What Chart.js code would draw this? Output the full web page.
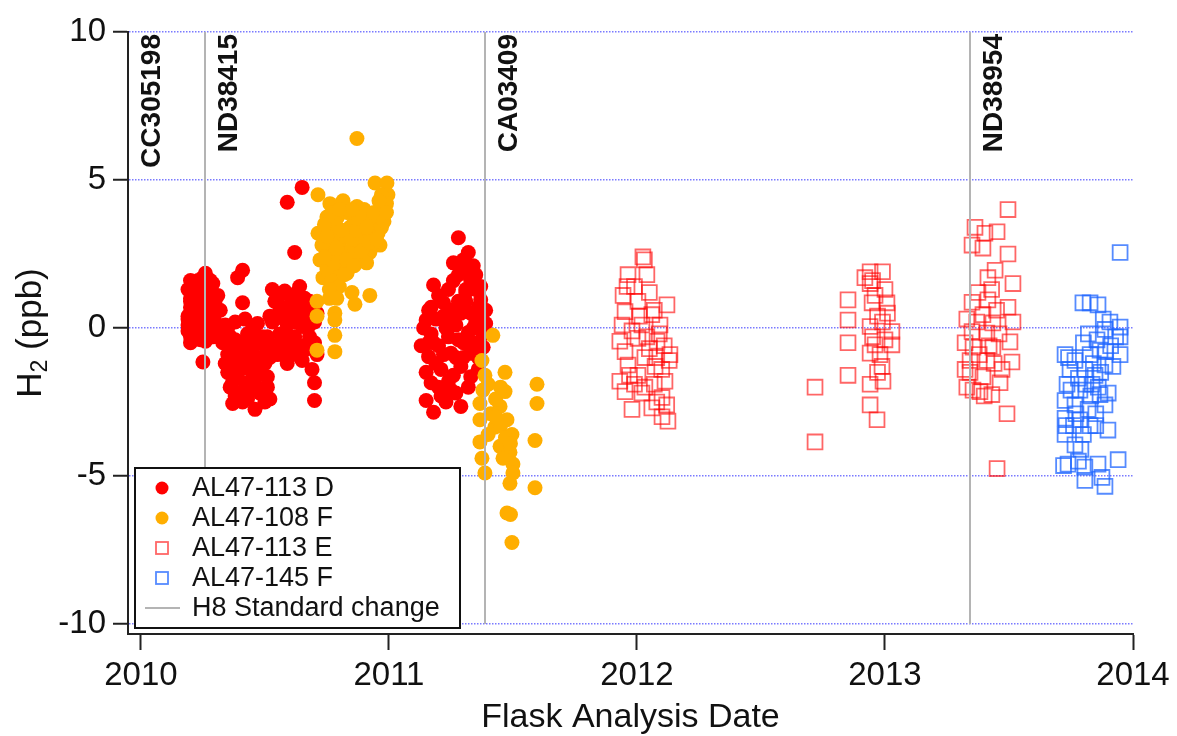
<!DOCTYPE html>
<html>
<head>
<meta charset="utf-8">
<title>H2 flask analysis</title>
<script src="https://cdn.jsdelivr.net/npm/chart.js@4.4.1/dist/chart.umd.min.js"></script>
<style>
  html, body { margin: 0; padding: 0; background: #fff; }
</style>
</head>
<body>
<canvas id="h2Chart" width="1177" height="736"></canvas>
<script>
// AL47-113 D (filled red circles)
const d113Dates = [
  2010.19, 2010.19, 2010.20, 2010.20, 2010.20, 2010.19, 2010.19, 2010.20, 2010.20, 2010.20,
  2010.21, 2010.21, 2010.22, 2010.22, 2010.23, 2010.23, 2010.24, 2010.24, 2010.25, 2010.25,
  2010.25, 2010.26, 2010.26, 2010.27, 2010.27, 2010.28, 2010.28, 2010.29, 2010.29, 2010.30,
  2010.30, 2010.31, 2010.32, 2010.41, 2010.39,
  2010.20, 2010.21, 2010.22, 2010.23, 2010.24, 2010.26, 2010.27, 2010.28, 2010.29, 2010.30,
  2010.31, 2010.32, 2010.19, 2010.26, 2010.30,
  2010.33, 2010.34, 2010.35, 2010.35, 2010.36, 2010.36, 2010.37, 2010.37, 2010.38, 2010.38,
  2010.39, 2010.40, 2010.40, 2010.41, 2010.41, 2010.42, 2010.42, 2010.43, 2010.43, 2010.44,
  2010.45, 2010.45, 2010.46, 2010.46, 2010.47, 2010.47, 2010.48, 2010.48, 2010.49, 2010.50,
  2010.51, 2010.51, 2010.52, 2010.52,
  2010.34, 2010.36, 2010.37, 2010.38, 2010.39, 2010.40, 2010.41, 2010.42, 2010.43, 2010.44,
  2010.44, 2010.45, 2010.46, 2010.47, 2010.48, 2010.49, 2010.50, 2010.50, 2010.51, 2010.52,
  2010.38, 2010.35,
  2010.53, 2010.53, 2010.54, 2010.55, 2010.55, 2010.56, 2010.57, 2010.58, 2010.58, 2010.59,
  2010.59, 2010.60, 2010.61, 2010.61, 2010.62, 2010.62, 2010.63, 2010.64, 2010.64, 2010.65,
  2010.65, 2010.66, 2010.67, 2010.67, 2010.68, 2010.69, 2010.69, 2010.70, 2010.70, 2010.70,
  2010.71, 2010.59, 2010.65,
  2010.54, 2010.55, 2010.56, 2010.57, 2010.58, 2010.60, 2010.60, 2010.62, 2010.63, 2010.63,
  2010.65, 2010.66, 2010.66, 2010.68, 2010.68, 2010.70, 2010.71, 2010.56, 2010.59, 2010.62,
  2011.28, 2011.32, 2011.26, 2011.35, 2011.18, 2011.26, 2011.31, 2011.37, 2011.17, 2011.22,
  2011.15, 2011.26, 2011.33, 2011.38, 2011.39, 2011.16, 2011.24, 2011.32, 2011.37, 2011.16,
  2011.25, 2011.33, 2011.21, 2011.29, 2011.33, 2011.17, 2011.25, 2011.15, 2011.21, 2011.18,
  2011.29, 2011.38, 2011.39, 2011.20, 2011.23, 2011.28, 2011.30, 2011.35, 2011.27, 2011.20,
  2011.36, 2011.31, 2011.24, 2011.14, 2011.13, 2011.34, 2011.30, 2011.35,
  2011.15, 2011.17, 2011.19, 2011.19, 2011.20, 2011.22, 2011.22, 2011.24, 2011.25, 2011.26,
  2011.27, 2011.28, 2011.28, 2011.29, 2011.30, 2011.31, 2011.32, 2011.33, 2011.34, 2011.35,
  2011.36, 2011.37, 2011.38, 2011.36, 2011.18, 2011.16, 2011.23, 2011.27, 2011.31
];
const d113Values = [
  0.30, -0.10, 0.90, 0.50, -0.30, 1.30, 0.10, 1.60, 0.70, -0.50,
  1.10, 0.30, 1.45, -0.20, 0.80, 0.45, 1.20, -0.40, 1.70, 0.10,
  -1.15, 1.85, 0.60, 1.35, -0.10, 0.90, 0.25, 1.50, -0.30, 0.50,
  0.95, 0.00, 0.60, 1.95, 1.70,
  1.00, -0.10, 0.60, 1.60, 0.20, 1.10, 0.35, 1.60, 0.70, 0.20,
  1.10, -0.30, 0.40, -0.45, -0.10,
  -0.50, 0.10, -0.90, -1.50, -0.30, -2.00, -0.75, -2.55, -1.20, 0.20,
  -1.70, -0.50, -2.20, 0.85, -1.00, 0.30, -1.85, -0.20, -2.40, -1.40,
  -0.80, 0.00, -2.75, -1.70, 0.15, -1.20, -2.20, -0.50, -1.00, -2.50,
  -1.65, -0.30, -2.40, 0.40,
  -1.20, -1.00, -1.80, -2.30, -0.90, -1.40, -2.50, -0.60, -1.20, -2.00,
  -0.30, -1.50, -0.40, -2.00, -1.50, -0.30, -1.20, -0.60, -2.00, -1.00,
  -0.40, 0.00,
  1.30, 0.20, -0.60, 0.35, 1.00, -0.20, 0.70, -0.50, 1.25, -1.20,
  0.10, 0.60, 0.85, -0.40, 2.55, 0.20, -0.90, 1.40, 0.50, 0.05,
  -0.60, -0.75, 0.90, 0.30, -0.30, 0.60, -1.40, -1.85, -2.45, 0.20,
  -0.90, 4.25, 4.75,
  0.90, -0.90, 0.60, -0.20, 0.30, -0.60, 1.10, -0.30, 0.60, 1.20,
  -1.10, 0.50, 1.00, 0.10, 0.90, -0.50, 0.50, -0.70, -0.80, 0.90,
  3.05, 2.55, 2.20, 1.80, 1.45, 1.60, 1.30, 0.95, 0.70, 0.85,
  0.27, 0.27, 0.50, 0.55, 0.60, -0.50, -0.30, -0.15, -0.05, -0.97,
  -0.85, -0.85, -1.40, -1.30, -1.65, -1.85, -2.10, -2.45, -2.30, -2.85,
  -2.65, -0.65, 0.15, 1.10, 0.00, 0.90, -0.50, 0.20, -1.00, -0.60,
  -1.00, 2.00, -1.80, 0.00, -0.60, 2.10, 2.30, 1.30,
  -1.50, -0.20, 0.30, -1.20, -2.00, 0.40, -0.90, 1.30, 0.60, -1.60,
  0.10, -0.40, 1.80, 0.50, -1.00, 0.90, -2.00, 1.60, 0.00, -0.50,
  0.70, 1.40, -0.20, -1.40, -0.50, 0.60, -2.50, -2.20, 1.20
];

// AL47-108 F (filled orange circles)
const f108Dates = [
  2010.871, 2010.944, 2010.992, 2010.714, 2010.996, 2010.815, 2010.762, 2010.871, 2010.964, 2010.923,
  2010.976, 2010.750, 2010.714, 2010.774, 2010.843, 2010.895, 2010.956, 2010.964, 2010.923, 2010.871,
  2010.762, 2010.722, 2010.802, 2010.734, 2010.831, 2010.774, 2010.851, 2010.923, 2010.863, 2010.710,
  2010.782, 2010.782, 2010.782, 2010.710, 2010.782,
  2010.74, 2010.79, 2010.80, 2010.82, 2010.76, 2010.79, 2010.84, 2010.86, 2010.88, 2010.90,
  2010.91, 2010.93, 2010.95, 2010.97, 2010.99, 2010.94, 2010.77, 2010.80, 2010.75, 2010.83,
  2010.97, 2010.71, 2010.76, 2010.81, 2010.90,
  2010.73, 2010.75, 2010.77, 2010.78, 2010.79, 2010.81, 2010.82, 2010.83, 2010.85, 2010.86,
  2010.87, 2010.88, 2010.89, 2010.91, 2010.92, 2010.94, 2010.95, 2010.96, 2010.98, 2010.99,
  2010.76, 2010.79, 2010.74, 2010.85, 2010.80,
  2011.419, 2011.375, 2011.468, 2011.387, 2011.379, 2011.468, 2011.597, 2011.597, 2011.367, 2011.448,
  2011.476, 2011.367, 2011.427, 2011.496, 2011.367, 2011.448, 2011.589, 2011.488, 2011.375, 2011.500,
  2011.387, 2011.488, 2011.589, 2011.476, 2011.496,
  2011.40, 2011.43, 2011.41, 2011.45, 2011.47, 2011.49, 2011.43, 2011.40, 2011.46, 2011.50,
  2011.49, 2011.45
];
const f108Values = [
  6.40, 4.90, 4.90, 4.50, 4.50, 4.30, 4.20, 4.10, 4.00, 3.65,
  3.90, 3.75, 3.20, 3.30, 3.40, 3.10, 3.20, 2.80, 2.55, 2.40,
  2.75, 2.30, 2.20, 1.70, 1.85, 1.30, 1.20, 1.10, 0.80, 0.90,
  0.50, 0.27, -0.25, -0.75, -0.80,
  3.50, 3.70, 2.90, 3.10, 2.40, 2.00, 2.60, 3.60, 2.90, 3.80,
  2.20, 3.30, 3.60, 3.40, 4.20, 2.90, 1.60, 1.40, 2.00, 3.90,
  4.50, 0.40, 1.00, 2.50, 4.00,
  2.80, 3.10, 3.90, 2.20, 2.70, 3.30, 1.80, 2.30, 3.00, 2.10,
  3.30, 3.70, 2.60, 3.40, 2.90, 3.90, 3.00, 4.30, 3.60, 3.90,
  1.30, 1.00, 2.40, 4.00, 4.00,
  -0.25, -1.10, -1.50, -1.60, -2.10, -2.15, -1.90, -2.55, -2.55, -2.65,
  -3.10, -3.10, -3.35, -3.60, -3.85, -4.00, -3.80, -4.20, -4.40, -4.60,
  -4.90, -5.25, -5.40, -6.25, -7.25,
  -1.90, -2.40, -2.90, -3.30, -3.70, -3.90, -3.00, -3.60, -4.40, -4.90,
  -6.30, -2.00
];

// AL47-113 E (open red squares)
const e113Dates = [
  2012.024, 2011.964, 2012.040, 2012.121, 2011.944, 2012.004, 2011.952, 2012.060, 2011.940, 2012.020,
  2012.093, 2011.931, 2012.004, 2012.081, 2012.133, 2011.952, 2012.032, 2011.964, 2012.073, 2011.931,
  2012.004, 2012.113, 2011.952, 2012.032, 2012.101, 2011.980, 2012.060, 2012.101, 2012.125,
  2011.99, 2012.05, 2012.07, 2012.09, 2012.11, 2012.04, 2011.98, 2012.01, 2012.05, 2012.08,
  2012.10, 2011.97, 2012.02, 2012.08, 2012.12, 2012.07, 2011.99, 2012.03, 2011.96, 2012.13,
  2012.718, 2012.718, 2012.851, 2012.851, 2012.851, 2012.851, 2012.940, 2012.940, 2013.000, 2012.948,
  2013.008, 2012.940, 2013.028, 2012.960, 2013.028, 2012.940, 2012.988, 2012.992, 2012.940, 2012.940,
  2012.968, 2012.919,
  2012.95, 2012.97, 2012.99, 2012.95, 2012.98, 2013.00, 2012.96, 2013.01, 2012.97, 2012.99,
  2013.496, 2013.363, 2013.403, 2013.452, 2013.351, 2013.395, 2013.496, 2013.444, 2013.415, 2013.516,
  2013.375, 2013.351, 2013.415, 2013.496, 2013.516, 2013.395, 2013.435, 2013.351, 2013.411, 2013.504,
  2013.355, 2013.435, 2013.512, 2013.343, 2013.411, 2013.472, 2013.343, 2013.395, 2013.464, 2013.355,
  2013.383, 2013.431, 2013.492, 2013.452,
  2013.323, 2013.323, 2013.33, 2013.33, 2013.43, 2013.45, 2013.42, 2013.38, 2013.44, 2013.37,
  2013.46, 2013.40
];
const e113Values = [
  2.40, 1.80, 1.80, 0.78, 1.10, 0.90, 0.55, 0.45, 0.10, 0.10,
  0.10, -0.45, -0.35, -0.45, -0.90, -0.80, -1.00, -1.25, -1.30, -1.80,
  -1.60, -1.80, -2.15, -2.00, -2.35, -2.75, -2.70, -3.00, -3.15,
  1.40, 1.20, 0.60, -0.20, -0.60, -0.30, -0.10, 0.40, -0.70, -1.00,
  -1.40, -1.60, -2.20, -2.50, -2.60, -1.90, -1.90, 2.30, 1.40, -1.10,
  -2.00, -3.85, 0.95, 0.27, -0.50, -1.60, 1.90, 1.50, 1.30, 0.85,
  0.85, 0.05, -0.12, -0.57, -0.57, -0.85, -1.30, -1.80, -1.90, -2.60,
  -3.10, 1.70,
  1.60, 0.40, 0.20, -0.30, -0.90, -0.40, 1.10, 0.50, -1.50, 1.90,
  4.00, 3.40, 3.20, 3.25, 2.80, 2.70, 2.50, 1.95, 1.70, 1.50,
  1.20, 0.87, 0.95, 0.70, 0.20, 0.45, 0.17, -0.12, -0.17, -0.47,
  -0.65, -0.65, -1.15, -1.10, -1.10, -1.40, -1.50, -1.65, -1.85, -2.10,
  -2.15, -2.25, -2.90, -4.75,
  -0.50, -1.40, 0.30, -2.00, 1.30, 0.60, -0.60, -0.90, -1.20, 0.20,
  -0.20, -2.30
];

// AL47-145 F (open blue squares)
const f145Dates = [
  2013.948, 2013.798, 2013.827, 2013.859, 2013.907, 2013.948, 2013.948, 2013.887, 2013.855, 2013.726,
  2013.766, 2013.827, 2013.867, 2013.746, 2013.806, 2013.847, 2013.887, 2013.734, 2013.786, 2013.835,
  2013.867, 2013.726, 2013.766, 2013.819, 2013.887, 2013.726, 2013.786, 2013.827, 2013.899, 2013.726,
  2013.766, 2013.738, 2013.806, 2013.859, 2013.940, 2013.806, 2013.887, 2013.875, 2013.948, 2013.919,
  2013.80, 2013.84, 2013.78, 2013.86, 2013.90, 2013.76, 2013.80, 2013.85, 2013.91, 2013.88,
  2013.72, 2013.79,
  2013.74, 2013.75, 2013.77, 2013.81, 2013.83, 2013.85, 2013.87, 2013.89, 2013.93, 2013.82,
  2013.78, 2013.73
];
const f145Values = [
  2.55, 0.85, 0.85, 0.78, 0.20, 0.03, -0.30, -0.05, -0.40, -0.90,
  -1.10, -0.90, -0.75, -1.40, -1.40, -1.60, -1.25, -1.90, -2.10, -1.90,
  -2.25, -2.45, -2.60, -2.75, -2.60, -3.05, -3.10, -3.30, -3.45, -3.60,
  -3.95, -4.60, -4.70, -4.60, -4.45, -5.15, -5.35, -5.05, -0.90, -1.30,
  -0.50, -1.20, -1.70, -2.00, -2.20, -3.30, -3.60, -2.90, -0.60, 0.30,
  -4.65, -4.10,
  -1.00, -2.10, -2.90, -1.90, -2.30, -3.30, -1.50, -0.80, -0.30, -0.20,
  -4.50, -3.30
];

// H8 standard changes
const changeDates = [2009.948, 2010.258, 2011.387, 2013.343];
const changeNames = ['CC305198', 'ND38415', 'CA03409', 'ND38954'];

const yearTicks = [2010, 2011, 2012, 2013, 2014];
const ppbTicks = [-10, -5, 0, 5, 10];

const FONT = '"Liberation Sans", Arial, Helvetica, sans-serif';

function toPoints(xs, ys) {
  return xs.map((x, i) => ({ x: x, y: ys[i] }));
}

const seriesStyles = [
  { label: 'AL47-113 D', pointStyle: 'circle', pointRadius: 7.5, backgroundColor: '#ff0000', borderColor: '#ff0000', borderWidth: 0, order: 2 },
  { label: 'AL47-108 F', pointStyle: 'circle', pointRadius: 7.5, backgroundColor: '#ffae00', borderColor: '#ffae00', borderWidth: 0, order: 1 },
  { label: 'AL47-113 E', pointStyle: 'rect', pointRadius: 10.5, backgroundColor: 'rgba(0,0,0,0)', borderColor: 'rgba(255,0,0,0.6)', borderWidth: 1.8, order: 3 },
  { label: 'AL47-145 F', pointStyle: 'rect', pointRadius: 10.5, backgroundColor: 'rgba(0,0,0,0)', borderColor: 'rgba(30,100,255,0.75)', borderWidth: 1.8, order: 4 }
];

const seriesData = [
  toPoints(d113Dates, d113Values),
  toPoints(f108Dates, f108Values),
  toPoints(e113Dates, e113Values),
  toPoints(f145Dates, f145Values)
];

// vertical standard-change lines with their cylinder ids, plus the boxed legend
const changeMarks = {
  id: 'changeMarks',
  afterDatasetsDraw(chart) {
    const { ctx, chartArea, scales: { x, y } } = chart;
    const top = y.getPixelForValue(10);
    const bottom = y.getPixelForValue(-10);

    ctx.save();
    ctx.beginPath();
    ctx.rect(chartArea.left + 1.5, chartArea.top, chartArea.width, chartArea.height);
    ctx.clip();
    ctx.strokeStyle = '#b4b4b4';
    ctx.lineWidth = 2;
    changeDates.forEach(d => {
      const px = Math.round(x.getPixelForValue(d));
      ctx.beginPath();
      ctx.moveTo(px, top);
      ctx.lineTo(px, bottom);
      ctx.stroke();
    });
    ctx.restore();

    ctx.save();
    ctx.fillStyle = '#111';
    ctx.font = 'bold 28px ' + FONT;
    ctx.textAlign = 'right';
    ctx.textBaseline = 'alphabetic';
    changeDates.forEach((d, i) => {
      const px = x.getPixelForValue(d);
      ctx.save();
      ctx.translate(px + 32, chartArea.top + 2);
      ctx.rotate(-Math.PI / 2);
      ctx.fillText(changeNames[i], 0, 0);
      ctx.restore();
    });
    ctx.restore();

    // legend box
    const boxLeft = chartArea.left + 7;
    const boxBottom = chartArea.bottom - 6;
    const boxW = 325, boxH = 160;
    const boxTop = boxBottom - boxH;
    ctx.save();
    ctx.fillStyle = '#fff';
    ctx.fillRect(boxLeft, boxTop, boxW, boxH);
    ctx.strokeStyle = '#111';
    ctx.lineWidth = 2;
    ctx.strokeRect(boxLeft, boxTop, boxW, boxH);

    const rows = seriesStyles.map(s => s.label).concat(['H8 Standard change']);
    const mx = boxLeft + 27;
    ctx.font = '27px ' + FONT;
    ctx.textBaseline = 'middle';
    ctx.textAlign = 'left';
    rows.forEach((text, i) => {
      const cy = boxTop + 20 + i * 30;
      const s = seriesStyles[i];
      if (s && s.pointStyle === 'circle') {
        ctx.fillStyle = s.backgroundColor;
        ctx.beginPath();
        ctx.arc(mx, cy, 6.5, 0, Math.PI * 2);
        ctx.fill();
      } else if (s) {
        ctx.strokeStyle = s.borderColor;
        ctx.lineWidth = 1.8;
        ctx.strokeRect(mx - 6, cy - 6, 12, 12);
      } else {
        ctx.strokeStyle = '#b4b4b4';
        ctx.lineWidth = 2;
        ctx.beginPath();
        ctx.moveTo(boxLeft + 10, cy);
        ctx.lineTo(boxLeft + 45, cy);
        ctx.stroke();
      }
      ctx.fillStyle = '#111';
      ctx.fillText(text, boxLeft + 57, cy + 1);
    });
    ctx.restore();
  },
  afterDraw(chart) {
    // y title with a subscript 2
    const { ctx, chartArea } = chart;
    const big = '35px ' + FONT;
    const small = '23px ' + FONT;
    ctx.save();
    ctx.fillStyle = '#111';
    ctx.textBaseline = 'alphabetic';
    ctx.textAlign = 'left';
    ctx.font = big;
    const wH = ctx.measureText('H').width;
    const wRest = ctx.measureText(' (ppb)').width;
    ctx.font = small;
    const w2 = ctx.measureText('2').width;
    const total = wH + w2 + wRest;
    ctx.translate(41, (chartArea.top + chartArea.bottom) / 2 + 0);
    ctx.rotate(-Math.PI / 2);
    let cx = -total / 2;
    ctx.font = big;
    ctx.fillText('H', cx, 0);
    cx += wH;
    ctx.font = small;
    ctx.fillText('2', cx, 6);
    cx += w2;
    ctx.font = big;
    ctx.fillText(' (ppb)', cx, 0);
    ctx.restore();
  }
};

const chart = new Chart(document.getElementById('h2Chart'), {
  type: 'scatter',
  data: {
    datasets: seriesStyles.map((s, i) => Object.assign({ data: seriesData[i] }, s))
  },
  options: {
    responsive: false,
    devicePixelRatio: 1,
    animation: false,
    events: [],
    layout: { padding: { left: 0, right: 44, top: 32, bottom: 0 } },
    plugins: {
      legend: { display: false },
      tooltip: { enabled: false }
    },
    scales: {
      x: {
        type: 'linear',
        min: 2009.948,
        max: 2014,
        afterBuildTicks: s => { s.ticks = yearTicks.map(v => ({ value: v })); },
        afterFit: s => { s.height = 102; },
        grid: { drawOnChartArea: false, drawTicks: true, tickLength: 16, tickColor: '#222', tickWidth: 2 },
        border: { color: '#222', width: 2 },
        ticks: {
          color: '#111',
          font: { family: FONT, size: 33 },
          padding: 6,
          maxRotation: 0,
          callback: v => String(v)
        },
        title: {
          display: true,
          text: 'Flask Analysis Date',
          color: '#111',
          font: { family: FONT, size: 34 },
          padding: { top: 0, bottom: -2 }
        }
      },
      y: {
        type: 'linear',
        min: -10.34,
        max: 10,
        afterBuildTicks: s => { s.ticks = ppbTicks.map(v => ({ value: v })); },
        afterFit: s => { s.width = 128; },
        grid: {
          color: '#7a7aff',
          lineWidth: 1.5,
          tickLength: 15,
          tickColor: '#222',
          tickWidth: 2,
          tickBorderDash: []
        },
        border: { color: '#222', width: 2, dash: [1.5, 1.5] },
        ticks: {
          color: '#111',
          font: { family: FONT, size: 33 },
          padding: 7,
          callback: v => String(v)
        }
      }
    }
  },
  plugins: [changeMarks]
});
</script>
</body>
</html>
